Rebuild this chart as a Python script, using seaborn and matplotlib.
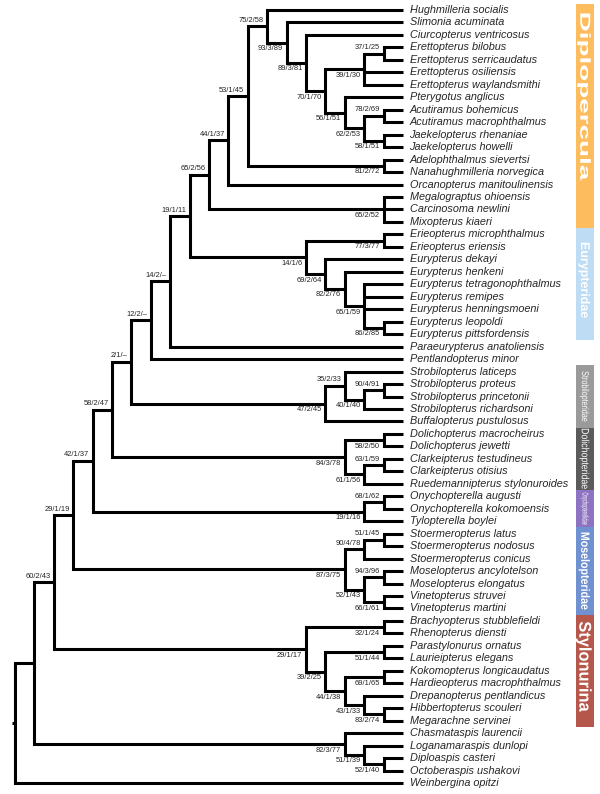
import numpy as np
import pandas as pd
import matplotlib
matplotlib.use("Agg")
import matplotlib.pyplot as plt
import seaborn as sns
from matplotlib.textpath import TextPath
from matplotlib.patches import PathPatch
from matplotlib.font_manager import FontProperties
from matplotlib.transforms import Affine2D

# clades as (support label, children); leaves are species names
pterygotoidea = ("70/1/70", [
    ("39/1/30", [("37/1/25", ["Erettopterus bilobus", "Erettopterus serricaudatus"]),
                 "Erettopterus osiliensis", "Erettopterus waylandsmithi"]),
    ("56/1/51", ["Pterygotus anglicus",
                 ("62/2/53", [("78/2/69", ["Acutiramus bohemicus", "Acutiramus macrophthalmus"]),
                              ("58/1/51", ["Jaekelopterus rhenaniae", "Jaekelopterus howelli"])])]),
])
diploperculata = ("65/2/56", [
    ("44/1/37", [
        ("53/1/45", [
            ("75/2/58", ["Hughmilleria socialis",
                         ("93/3/89", ["Slimonia acuminata",
                                      ("89/3/81", ["Ciurcopterus ventricosus", pterygotoidea])])]),
            ("81/2/72", ["Adelophthalmus sievertsi", "Nanahughmilleria norvegica"]),
        ]),
        "Orcanopterus manitoulinensis",
    ]),
    ("65/2/52", ["Megalograptus ohioensis", "Carcinosoma newlini", "Mixopterus kiaeri"]),
])
eurypteridae = ("14/1/6", [
    ("77/3/77", ["Erieopterus microphthalmus", "Erieopterus eriensis"]),
    ("69/2/64", ["Eurypterus dekayi",
                 ("82/2/76", ["Eurypterus henkeni",
                              ("65/1/59", ["Eurypterus tetragonophthalmus", "Eurypterus remipes",
                                           "Eurypterus henningsmoeni",
                                           ("86/2/85", ["Eurypterus leopoldi",
                                                        "Eurypterus pittsfordensis"])])])]),
])
strobilopteridae = ("47/2/45", [
    ("35/2/33", ["Strobilopterus laticeps",
                 ("40/1/40", [("90/4/91", ["Strobilopterus proteus", "Strobilopterus princetonii"]),
                              "Strobilopterus richardsoni"])]),
    "Buffalopterus pustulosus",
])
dolichopteridae = ("84/3/78", [
    ("58/2/50", ["Dolichopterus macrocheirus", "Dolichopterus jewetti"]),
    ("61/1/56", [("63/1/59", ["Clarkeipterus testudineus", "Clarkeipterus otisius"]),
                 "Ruedemannipterus stylonuroides"]),
])
onychopterellidae = ("19/1/16", [
    ("68/1/62", ["Onychopterella augusti", "Onychopterella kokomoensis"]),
    "Tylopterella boylei",
])
moselopteridae = ("87/3/75", [
    ("90/4/78", [("51/1/45", ["Stoermeropterus latus", "Stoermeropterus nodosus"]),
                 "Stoermeropterus conicus"]),
    ("52/1/43", [("94/3/96", ["Moselopterus ancylotelson", "Moselopterus elongatus"]),
                 ("66/1/61", ["Vinetopterus struvei", "Vinetopterus martini"])]),
])
stylonurina = ("29/1/17", [
    ("32/1/24", ["Brachyopterus stubblefieldi", "Rhenopterus diensti"]),
    ("39/2/25", [("51/1/44", ["Parastylonurus ornatus", "Laurieipterus elegans"]),
                 ("44/1/38", [("69/1/65", ["Kokomopterus longicaudatus", "Hardieopterus macrophthalmus"]),
                              ("43/1/33", ["Drepanopterus pentlandicus",
                                           ("83/2/74", ["Hibbertopterus scouleri",
                                                        "Megarachne servinei"])])])]),
])
chasmataspidida = ("82/3/77", [
    "Chasmataspis laurencii",
    ("51/1/39", ["Loganamaraspis dunlopi",
                 ("52/1/40", ["Diploaspis casteri", "Octoberaspis ushakovi"])]),
])

tree = ("", [
    ("", [
        ("60/2/43", [
            ("29/1/19", [
                ("42/1/37", [
                    ("58/2/47", [
                        ("2/1/–", [
                            ("12/2/–", [
                                ("14/2/–", [("19/1/11", [diploperculata, eurypteridae]),
                                            "Paraeurypterus anatoliensis"]),
                                "Pentlandopterus minor"]),
                            strobilopteridae]),
                        dolichopteridae]),
                    onychopterellidae]),
                moselopteridae]),
            stylonurina]),
        chasmataspidida]),
    "Weinbergina opitzi",
])

# coloured side bands: name, first leaf, last leaf, colour
band_names = ["Diplopercula", "Eurypteridae", "Strobilopteridae", "Dolichopteridae",
              "Onychopterellidae", "Moselopteridae", "Stylonurina"]
band_first = ["Hughmilleria socialis", "Erieopterus microphthalmus", "Strobilopterus laticeps",
              "Dolichopterus macrocheirus", "Onychopterella augusti", "Stoermeropterus latus",
              "Brachyopterus stubblefieldi"]
band_last = ["Mixopterus kiaeri", "Eurypterus pittsfordensis", "Buffalopterus pustulosus",
             "Ruedemannipterus stylonuroides", "Tylopterella boylei", "Vinetopterus martini",
             "Megarachne servinei"]
band_colors = ["#FDBD5E", "#BEDDF5", "#9A9A9A", "#5B5B5B", "#8F73C3", "#7091D0", "#B5574A"]

# label text styling (pixels): length along bar, glyph size, bold, shift from band centre
band_text_len = [167, 75, 50, 60, 32, 77, 90]
band_text_size = [14.5, 12.5, 10, 10.5, 8.5, 12, 17]
band_text_bold = [True, True, False, False, False, True, True]
band_text_shift = [-19, -4, 0, 0, 0, 0, -4]

# first-child nodes whose support label still sits below the branch
below_first = ["39/1/30", "77/3/77", "58/2/50", "32/1/24", "51/1/44", "69/1/65"]

# ---------------------------------------------------------------- layout
leaf_y = {}
segments = []
support = []


def place(node, first=False):
    if isinstance(node, str):
        leaf_y[node] = len(leaf_y)
        return 0.0, float(leaf_y[node])
    label, kids = node
    pts = [place(k, i == 0) for i, k in enumerate(kids)]
    x = min(p[0] for p in pts) - 1
    y = (pts[0][1] + pts[-1][1]) / 2
    segments.append([(pts[0][0], pts[0][1]), (x, pts[0][1]),
                     (x, pts[-1][1]), (pts[-1][0], pts[-1][1])])
    for cx, cy in pts[1:-1]:
        segments.append([(cx, cy), (x, cy)])
    if label:
        support.append((x, y, label, first))
    return x, y


root_x, root_y = place(tree)
segments.append([(root_x - 0.18, root_y), (root_x, root_y)])

rows = [(i, px, py) for i, seg in enumerate(segments) for px, py in seg]
lines = pd.DataFrame(rows, columns=["seg", "x", "y"])

# pixel scale of one tree step / one leaf row
PX_X = 19.4
PX_Y = 12.468
n_leaf = len(leaf_y)

sns.set_style("white")
plt.rcParams["font.family"] = ["Liberation Sans", "DejaVu Sans"]

fig = plt.figure(figsize=(6, 7.94), dpi=100)
ax = fig.add_axes([0, 0, 1, 1])

sns.lineplot(data=lines, x="x", y="y", units="seg", estimator=None, sort=False,
             color="black", linewidth=2.2, legend=False, ax=ax,
             solid_joinstyle="miter", solid_capstyle="butt")

for name, i in leaf_y.items():
    ax.text(6.5 / PX_X, i, name, style="italic", fontsize=7.8, ha="left", va="center")

for x, y, label, first in support:
    above = first and label not in below_first
    dy = -6.0 / PX_Y if above else 6.0 / PX_Y
    ax.text(x - 3.5 / PX_X, y + dy, label, fontsize=5.4, color="#222222",
            ha="right", va="center")

# side bands
bar_x = (585 - 403) / PX_X
bar_w = 18 / PX_X
tops = np.array([leaf_y[n] for n in band_first]) - 0.5
bots = np.array([leaf_y[n] for n in band_last]) + 0.5
ax.bar(np.full(len(tops), bar_x), bots - tops, bottom=tops, width=bar_w,
       color=band_colors, linewidth=0)

text_x = (585.5 - 403) / PX_X
for name, t, b, L, fs, bold, sh in zip(band_names, tops, bots, band_text_len,
                                       band_text_size, band_text_bold, band_text_shift):
    fp = FontProperties(family="Liberation Sans", weight="bold" if bold else "normal")
    tp = TextPath((0, 0), name, size=1, prop=fp)
    ext = tp.get_extents()
    tr = (Affine2D().translate(-(ext.x0 + ext.width / 2), -0.36)
          .scale(L / ext.width, fs).rotate_deg(-90)
          .scale(1 / PX_X, -1 / PX_Y)
          .translate(text_x, (t + b) / 2 + sh / PX_Y))
    ax.add_patch(PathPatch(tp, transform=tr + ax.transData, facecolor="white",
                           edgecolor="none", clip_on=False))

ax.set_xlim(-403 / PX_X, 197 / PX_X)
ax.set_ylim((n_leaf - 1) + 11 / PX_Y, -10 / PX_Y)
ax.axis("off")

fig.savefig("out.png", dpi=100)
